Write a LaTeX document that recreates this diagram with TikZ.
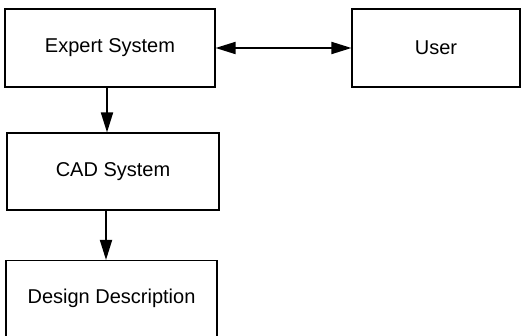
\documentclass[tikz,border=0pt]{standalone}
\usepackage{fontspec}
\setmainfont{Liberation Sans}
\usetikzlibrary{arrows.meta}
\begin{document}
\begin{tikzpicture}[x=1pt,y=-1pt,
  block/.style={draw, line width=1.1pt, rectangle, inner sep=0pt,
    font=\fontsize{20}{24}\selectfont},
  link/.style={line width=1.8pt, -{Triangle[length=20pt,width=12pt]}},
  twoway/.style={line width=1.8pt, {Triangle[length=20pt,width=12pt]}-{Triangle[length=20pt,width=12pt]}}]
  \useasboundingbox (0,0) rectangle (521,336);
  % boxes
  \node[block, minimum width=210pt, minimum height=78pt] (es) at (110,48) {Expert System};
  \node[block, minimum width=168pt, minimum height=78pt] (user) at (436,48) {User};
  \node[block, minimum width=212pt, minimum height=77pt] (cad) at (113,171.5) {CAD System};
  \node[block, minimum width=211pt, minimum height=76pt] (dd) at (111.5,298.5) {Design Description};
  % connectors
  \coordinate (v1) at (107,0);
  \coordinate (v2) at (106,0);
  \draw[twoway] (es.east) -- (user.west);
  \draw[link] (es.south -| v1) -- (cad.north -| v1);
  \draw[link] (cad.south -| v2) -- (dd.north -| v2);
\end{tikzpicture}
\end{document}
